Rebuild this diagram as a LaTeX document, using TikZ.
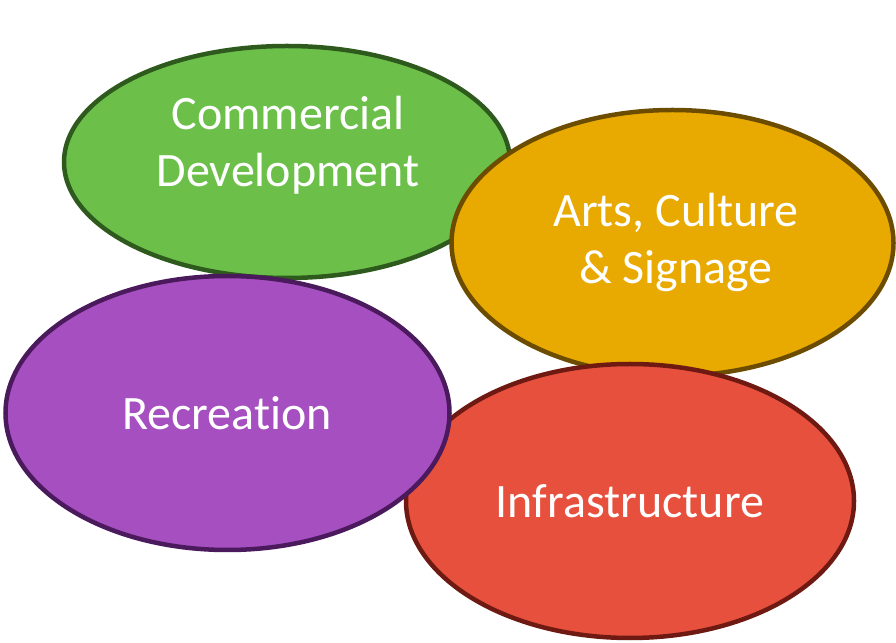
\documentclass[tikz,border=0pt]{standalone}
\usepackage{fontspec}
\setmainfont[Ligatures={NoCommon}]{Carlito}
\definecolor{gfill}{HTML}{6CC04A}
\definecolor{gdraw}{HTML}{2F5A1E}
\definecolor{ofill}{HTML}{E8A900}
\definecolor{odraw}{HTML}{6B4C00}
\definecolor{pfill}{HTML}{A64FC0}
\definecolor{pdraw}{HTML}{4A1A5C}
\definecolor{rfill}{HTML}{E8503E}
\definecolor{rdraw}{HTML}{6E1A12}
\begin{document}
\begin{tikzpicture}[x=1pt,y=1pt,
  blob/.style={line width=4.5pt},
  lbl/.style={text=white, align=center, font=\fontsize{48}{57}\selectfont}]
\useasboundingbox (0,0) rectangle (896,642);
\draw[blob, draw=gdraw, fill=gfill] (287,480) ellipse [x radius=223, y radius=116];
\node[lbl] (gt) at (288,497) {Commercial\\Development};
\draw[blob, draw=odraw, fill=ofill] (672.5,399) ellipse [x radius=221, y radius=133];
\node[lbl] (ot) at (676,400) {Arts, Culture\\\& Signage};
\draw[blob, draw=rdraw, fill=rfill] (630,141) ellipse [x radius=224, y radius=137];
\node[lbl] (rt) at (630,141) {Infrastructure};
\draw[blob, draw=pdraw, fill=pfill] (227.5,229) ellipse [x radius=222, y radius=137];
\node[lbl] (pt) at (227,229) {Recreation};
\end{tikzpicture}
\end{document}
